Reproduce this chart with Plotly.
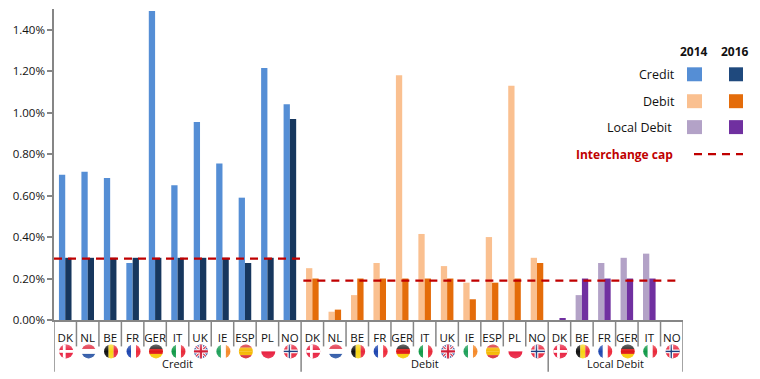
import base64
import plotly.graph_objects as go

credit_countries = ["DK", "NL", "BE", "FR", "GER", "IT", "UK", "IE", "ESP", "PL", "NO"]
debit_countries = ["DK", "NL", "BE", "FR", "GER", "IT", "UK", "IE", "ESP", "PL", "NO"]
local_countries = ["DK", "BE", "FR", "GER", "IT", "NO"]

credit_2014 = [0.70, 0.715, 0.685, 0.275, 1.49, 0.65, 0.955, 0.755, 0.59, 1.215, 1.04]
credit_2016 = [0.30, 0.30, 0.30, 0.30, 0.30, 0.30, 0.30, 0.30, 0.275, 0.30, 0.97]
debit_2014 = [0.25, 0.04, 0.12, 0.275, 1.18, 0.415, 0.26, 0.18, 0.40, 1.13, 0.30]
debit_2016 = [0.20, 0.05, 0.20, 0.20, 0.20, 0.20, 0.20, 0.10, 0.18, 0.20, 0.275]
local_2014 = [0, 0.12, 0.275, 0.30, 0.32, 0]
local_2016 = [0.005, 0.20, 0.20, 0.20, 0.20, 0]
cap_credit = 0.296
cap_debit = 0.19
y_ticks = [0, 0.2, 0.4, 0.6, 0.8, 1.0, 1.2, 1.4]

W, H = 760, 379
L, R, T, B = 54, 683, 8.5, 320.5
FONT = "Open Sans"
AXIS = "#868686"
CAP = "#C00000"
COLORS = {"c14": "#558ED5", "c16": "#17375E", "d14": "#FAC090", "d16": "#E46C0A",
          "l14": "#B3A2C7", "l16": "#7030A0"}


def px(v):
    return (v - L) / (R - L)


def py(v):
    return (B - v) / (B - T)


def stripes_h(cols):
    n = len(cols)
    return "".join(f'<rect x="0" y="{i*32/n}" width="32" height="{32/n+0.2}" fill="{c}"/>' for i, c in enumerate(cols))


def stripes_v(cols):
    n = len(cols)
    return "".join(f'<rect y="0" x="{i*32/n}" height="32" width="{32/n+0.2}" fill="{c}"/>' for i, c in enumerate(cols))


def cross(bg, fg, w=5, inner=None):
    s = f'<rect width="32" height="32" fill="{bg}"/>'
    s += f'<rect x="9" width="{w+3}" height="32" fill="{fg}"/><rect y="{16-(w+3)/2}" width="32" height="{w+3}" fill="{fg}"/>'
    if inner:
        s += f'<rect x="11.5" width="{w-2}" height="32" fill="{inner}"/><rect y="{16-(w-2)/2}" width="32" height="{w-2}" fill="{inner}"/>'
    return s


UK = ('<rect width="32" height="32" fill="#2B4A9B"/>'
      '<path d="M0 0L32 32M32 0L0 32" stroke="#fff" stroke-width="6"/>'
      '<path d="M0 0L32 32M32 0L0 32" stroke="#D0203A" stroke-width="2.5"/>'
      '<path d="M16 0V32M0 16H32" stroke="#fff" stroke-width="9"/>'
      '<path d="M16 0V32M0 16H32" stroke="#D0203A" stroke-width="5"/>')
FLAGS = {
    "DK": cross("#E8203F", "#fff", 3),
    "NL": stripes_h(["#E0283C", "#fff", "#2A55A5"]),
    "BE": stripes_v(["#111", "#F7D512", "#E8283C"]),
    "FR": stripes_v(["#1E46B0", "#fff", "#EE2A3C"]),
    "GER": stripes_h(["#222", "#E01818", "#F8C800"]),
    "IT": stripes_v(["#119A48", "#fff", "#E82A3A"]),
    "UK": UK,
    "IE": stripes_v(["#1FA05A", "#fff", "#F58A2A"]),
    "ESP": stripes_h(["#D8242C", "#F5B800", "#F5B800", "#D8242C"]),
    "PL": stripes_h(["#fff", "#E8203F"]),
    "NO": cross("#E8283F", "#fff", 5, "#1E3F80"),
}


def flag_uri(code):
    svg = ('<svg xmlns="http://www.w3.org/2000/svg" width="32" height="32" viewBox="0 0 32 32">'
           '<defs><clipPath id="c"><circle cx="16" cy="16" r="15"/></clipPath>'
           '<linearGradient id="g" x1="0" y1="0" x2="0" y2="1">'
           '<stop offset="0" stop-color="#fff" stop-opacity="0.35"/>'
           '<stop offset="0.5" stop-color="#fff" stop-opacity="0"/>'
           '<stop offset="1" stop-color="#fff" stop-opacity="0.15"/></linearGradient></defs>'
           f'<g clip-path="url(#c)">{FLAGS[code]}<rect width="32" height="32" fill="url(#g)"/></g></svg>')
    return "data:image/svg+xml;base64," + base64.b64encode(svg.encode()).decode()


n1, n2, n3 = len(credit_countries), len(debit_countries), len(local_countries)
x1 = list(range(n1))
x2 = list(range(n1, n1 + n2))
x3 = list(range(n1 + n2, n1 + n2 + n3))
all_countries = credit_countries + debit_countries + local_countries

fig = go.Figure()
for xs, ys, col, grp in [
    (x1, credit_2014, COLORS["c14"], "a"), (x1, credit_2016, COLORS["c16"], "b"),
    (x2, debit_2014, COLORS["d14"], "a"), (x2, debit_2016, COLORS["d16"], "b"),
    (x3, local_2014, COLORS["l14"], "a"), (x3, local_2016, COLORS["l16"], "b"),
]:
    fig.add_trace(go.Bar(x=xs, y=ys, marker=dict(color=col, line=dict(width=0)),
                         offsetgroup=grp, showlegend=False))

dash = "8px,6px"
fig.add_trace(go.Scatter(x=[-0.5, n1 - 0.55], y=[cap_credit] * 2, mode="lines", showlegend=False,
                         line=dict(color=CAP, width=2.2, dash=dash)))
fig.add_trace(go.Scatter(x=[n1 - 0.4, n1 + n2 + n3 - 0.8], y=[cap_debit] * 2, mode="lines", showlegend=False,
                         line=dict(color=CAP, width=2.2, dash=dash)))

shapes = []
for i in range(1, len(all_countries) + 1):
    major = i in (n1, n1 + n2, n1 + n2 + n3)
    bottom = 372.5 if major else 347
    shapes.append(dict(type="line", xref="x", yref="paper", x0=i - 0.5, x1=i - 0.5,
                       y0=py(B), y1=py(bottom), line=dict(color=AXIS, width=1.5)))
shapes.append(dict(type="line", xref="x", yref="paper", x0=-0.5, x1=-0.5, y0=py(B), y1=py(372.5),
                   line=dict(color=AXIS, width=1.5)))

# legend swatches
for yy, a, b in [(74, "c14", "c16"), (101, "d14", "d16"), (127, "l14", "l16")]:
    shapes.append(dict(type="rect", xref="paper", yref="paper", x0=px(687), x1=px(702), y0=py(yy - 7), y1=py(yy + 7),
                       fillcolor=COLORS[a], line_width=0))
    shapes.append(dict(type="rect", xref="paper", yref="paper", x0=px(729), x1=px(743), y0=py(yy - 7), y1=py(yy + 7),
                       fillcolor="#1F497D" if b == "c16" else COLORS[b], line_width=0))
shapes.append(dict(type="line", xref="paper", yref="paper", x0=px(694), x1=px(743), y0=py(154), y1=py(154),
                   line=dict(color=CAP, width=2.2, dash="8px,6px")))

annotations = []


def note(text, xpix, ypix, anchor="center", size=12, color="#111", bold=False, xref="paper", xval=None):
    annotations.append(dict(text=f"<b>{text}</b>" if bold else text, xref=xref, yref="paper",
                            x=px(xpix) if xval is None else xval, y=py(ypix),
                            xanchor=anchor, yanchor="middle", showarrow=False,
                            font=dict(family=FONT, size=size, color=color)))


note("2014", 694, 51, bold=True, size=12)
note("2016", 735, 51, bold=True, size=12)
note("Credit", 677, 74, "right", 12.5)
note("Debit", 677, 101, "right", 12.5)
note("Local Debit", 674, 127, "right", 12.5)
note("Interchange cap", 675, 154, "right", 12, CAP, True)
note("Credit", 0, 364, size=11, xref="x", xval=(n1 - 1) / 2)
note("Debit", 0, 364, size=11, xref="x", xval=n1 + (n2 - 1) / 2)
note("Local Debit", 0, 364, size=11, xref="x", xval=n1 + n2 + (n3 - 1) / 2)

images = [dict(source=flag_uri(c), xref="x", yref="paper", x=i + 0.04, y=py(352), sizex=0.68, sizey=15 / (B - T),
               xanchor="center", yanchor="middle", sizing="contain", layer="above")
          for i, c in enumerate(all_countries)]

fig.update_layout(
    width=W, height=H, margin=dict(l=L, r=W - R, t=T, b=H - B, pad=0),
    paper_bgcolor="white", plot_bgcolor="white", bargap=0.44, bargroupgap=0, barmode="group",
    shapes=shapes, annotations=annotations, images=images,
    font=dict(family=FONT, size=11, color="#111"),
    xaxis=dict(range=[-0.5, len(all_countries) - 0.5], tickmode="array", tickvals=list(range(len(all_countries))),
               ticktext=all_countries, ticks="", showgrid=False, zeroline=False, showline=True,
               linecolor=AXIS, linewidth=1.5, tickangle=0, ticklabelstandoff=6,
               tickfont=dict(family=FONT, size=11.5, color="#111")),
    yaxis=dict(range=[0, 1.5], tickmode="array", tickvals=y_ticks, ticktext=[f"{v:.2f}%" for v in y_ticks],
               ticks="outside", ticklen=5, tickwidth=1.5, tickcolor=AXIS, showgrid=False, zeroline=False,
               showline=True, linecolor=AXIS, linewidth=1.5, tickfont=dict(family=FONT, size=11.5, color="#111")),
)
fig.write_html("out.html", config={"displayModeBar": False},
               post_script="document.documentElement.style.overflow='hidden';document.body.style.margin='0';")
